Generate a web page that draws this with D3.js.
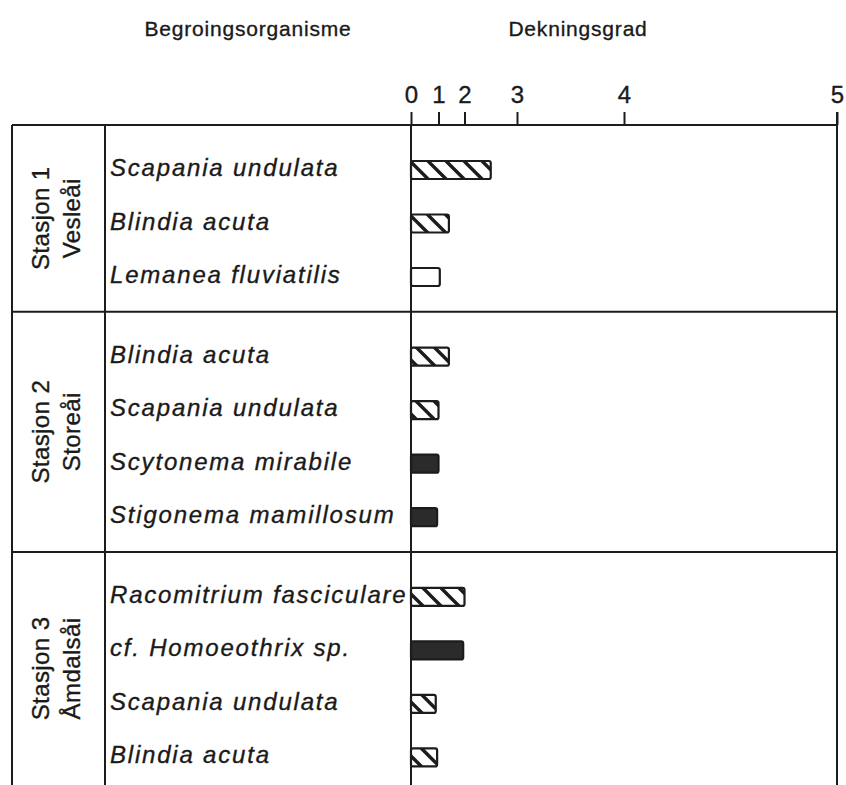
<!DOCTYPE html>
<head>
  <meta charset="utf-8">
  <script src="https://cdn.jsdelivr.net/npm/d3@7"></script>
  <style>
    body { margin: 0; background: #fff; }
    svg text { font-family: "Liberation Sans", Arial, sans-serif; fill: #1a1a1a; stroke: #1a1a1a; stroke-width: 0.35px; }
  </style>
</head>
<body>
<svg id="chart" width="846" height="785"></svg>
<script>
// data
var stationNames  = ["Stasjon 1", "Stasjon 2", "Stasjon 3"]
var stationRivers = ["Vesleåi", "Storeåi", "Åmdalsåi"]

var species = ["Scapania undulata", "Blindia acuta", "Lemanea fluviatilis",
               "Blindia acuta", "Scapania undulata", "Scytonema mirabile", "Stigonema mamillosum",
               "Racomitrium fasciculare", "cf. Homoeothrix sp.", "Scapania undulata", "Blindia acuta"]
var stationOf = [0, 0, 0, 1, 1, 1, 1, 2, 2, 2, 2]
var coverage  = [2.5, 1.4, 1.05, 1.4, 1.0, 1.0, 0.95, 2.0, 1.95, 0.9, 0.95]
var fillType  = ["hatch", "hatch", "open", "hatch", "hatch", "solid", "solid",
                 "hatch", "solid", "hatch", "hatch"]

var gradeTicks = [0, 1, 2, 3, 4, 5]

var W = 846, H = 785
  , left = 12, divX = 105, axisY = 125
  , ink = "#1c1c1c"

var svg = d3.select('#chart')

// non-linear (roughly doubling) cover scale, piecewise
var x = d3.scaleLinear()
  .domain(gradeTicks)
  .range([411, 438.5, 464.5, 517, 624, 837])

// each row one slot, sections separated by an extra gap
var sectionGap = 0.49
var rows = species.map(function (s, i) {
  return { name: s, v: coverage[i], fill: fillType[i], st: stationOf[i], pos: i + stationOf[i] * sectionGap }
})
var y = d3.scaleLinear().domain([0, 1]).range([170, 223.5])

var defs = svg.append('defs')
var P = 18
var pat = defs.append('pattern')
  .attr('id', 'hatch')
  .attr('patternUnits', 'userSpaceOnUse')
  .attr('width', P).attr('height', P)
  .attr('x', 411)
pat.append('rect').attr('width', P).attr('height', P).attr('fill', '#fff')
pat.append('path')
  .attr('d', 'M-4,-4L' + (P + 4) + ',' + (P + 4) + 'M-4,' + (P - 4) + 'L4,' + (P + 4) + 'M' + (P - 4) + ',-4L' + (P + 4) + ',4')
  .attr('stroke', ink).attr('stroke-width', 3.4)

// headers
svg.append('text').attr('x', 248).attr('y', 36).attr('text-anchor', 'middle')
  .style('font-size', '21px').style('letter-spacing', '0.8px')
  .text('Begroingsorganisme')
svg.append('text').attr('x', 578).attr('y', 36).attr('text-anchor', 'middle')
  .style('font-size', '21px').style('letter-spacing', '0.8px')
  .text('Dekningsgrad')

// axis on top of table
var axis = svg.append('g')
  .attr('transform', 'translate(0,' + axisY + ')')
  .call(d3.axisTop(x).tickValues(gradeTicks).tickFormat(d3.format('d'))
    .tickSizeInner(13).tickSizeOuter(0).tickPadding(9))
axis.select('.domain').remove()
axis.selectAll('.tick line').attr('stroke', ink).attr('stroke-width', 2)
axis.selectAll('.tick text')
  .attr('fill', ink)
  .style('font-size', '24px')
  .style('font-family', '"Liberation Sans", Arial, sans-serif')

// station section boundaries
var sections = stationNames.map(function (n, s) {
  var r = rows.filter(function (d) { return d.st === s })
  var top = y(r[0].pos) - 45
  var bottom = s < stationNames.length - 1 ? y(r[r.length - 1].pos) + 34.5 : H
  return { name: n, river: stationRivers[s], top: top, bottom: bottom }
})

var grid = svg.append('g').attr('stroke', ink).attr('stroke-width', 2)
sections.forEach(function (sec) {
  grid.append('line').attr('x1', left).attr('x2', x(5) + 1)
    .attr('y1', sec.top).attr('y2', sec.top)
})
grid.append('line').attr('x1', left).attr('x2', left).attr('y1', axisY).attr('y2', H)
grid.append('line').attr('x1', divX).attr('x2', divX).attr('y1', axisY).attr('y2', H)
grid.append('line').attr('x1', x(0)).attr('x2', x(0)).attr('y1', axisY).attr('y2', H)
grid.append('line').attr('x1', x(5)).attr('x2', x(5)).attr('y1', axisY - 13).attr('y2', H)

// station labels, rotated
var st = svg.append('g').selectAll('g').data(sections).enter().append('g')
  .attr('transform', function (d) { return 'translate(0,' + ((d.top + Math.min(d.bottom, d.top + 240)) / 2) + ') rotate(-90)' })
st.append('text').attr('x', 0).attr('y', 49).attr('text-anchor', 'middle')
  .style('font-size', '24px').style('letter-spacing', '0.4px')
  .text(function (d) { return d.name })
st.append('text').attr('x', 0).attr('y', 80).attr('text-anchor', 'middle')
  .style('font-size', '24px').style('letter-spacing', '0.4px')
  .text(function (d) { return d.river })

// species labels
svg.append('g').selectAll('text').data(rows).enter().append('text')
  .attr('x', 110)
  .attr('y', function (d) { return y(d.pos) + 6 })
  .style('font-size', '24px').style('font-style', 'italic').style('letter-spacing', '1.8px')
  .text(function (d) { return d.name })

// bars
svg.append('g').selectAll('rect').data(rows).enter().append('rect')
  .attr('x', x(0))
  .attr('y', function (d) { return y(d.pos) - 9 })
  .attr('width', function (d) { return x(d.v) - x(0) })
  .attr('height', 18)
  .attr('rx', 2)
  .attr('fill', function (d) { return d.fill === 'hatch' ? 'url(#hatch)' : d.fill === 'solid' ? '#2b2b2b' : '#fff' })
  .attr('stroke', ink)
  .attr('stroke-width', 2.2)
</script>
</body>
